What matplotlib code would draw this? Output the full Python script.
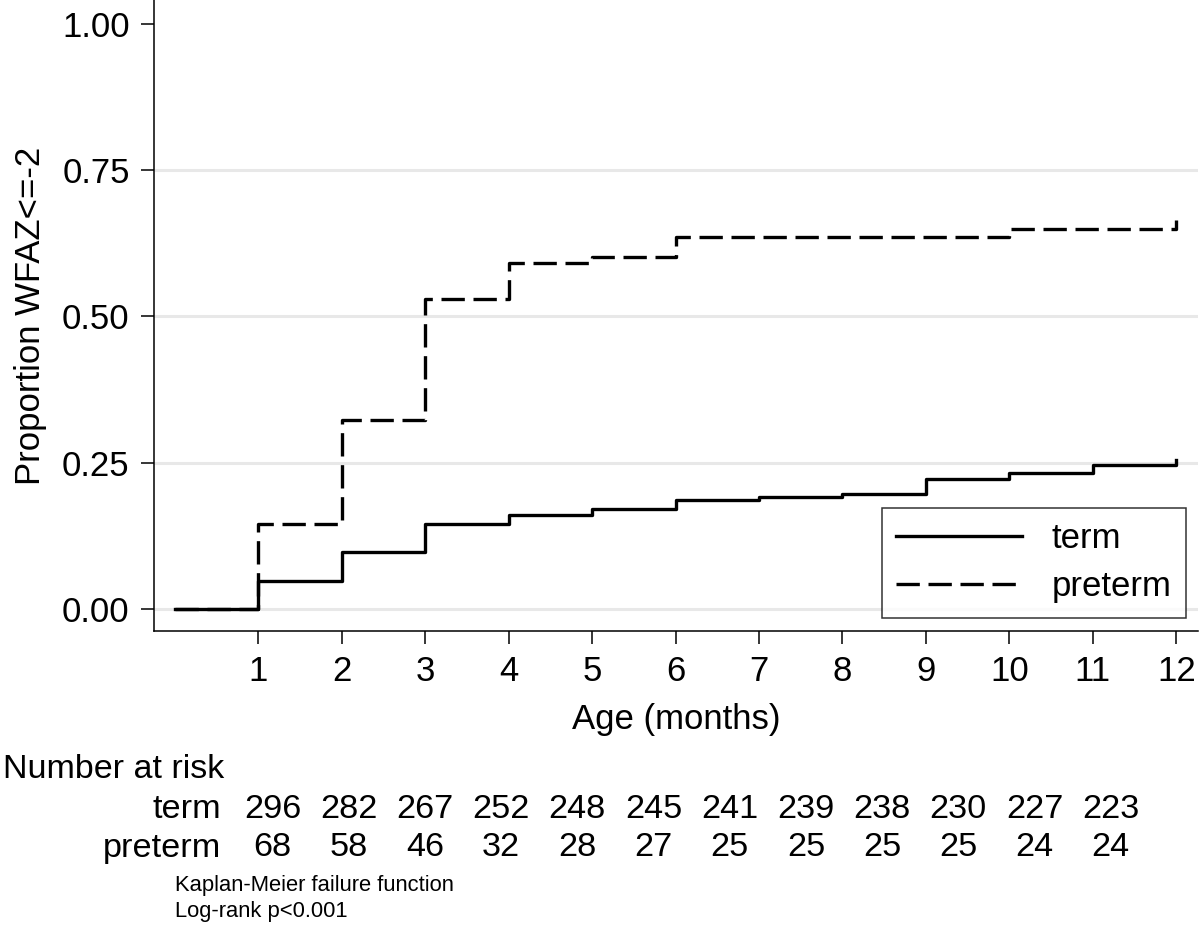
import numpy as np
import matplotlib
matplotlib.use("Agg")
import matplotlib.pyplot as plt

plt.rcParams["font.family"] = ["Liberation Sans", "DejaVu Sans"]

# Kaplan-Meier failure estimates
months = [0, 1, 2, 3, 4, 5, 6, 7, 8, 9, 10, 11, 12]
term_failure = [0.0, 0.048, 0.097, 0.146, 0.160, 0.171, 0.186, 0.192,
                0.196, 0.222, 0.233, 0.246, 0.254]
preterm_failure = [0.0, 0.145, 0.323, 0.530, 0.591, 0.602, 0.635, 0.635,
                   0.635, 0.635, 0.649, 0.649, 0.664]

# Number at risk table
groups = ["term", "preterm"]
term_at_risk = [296, 282, 267, 252, 248, 245, 241, 239, 238, 230, 227, 223]
preterm_at_risk = [68, 58, 46, 32, 28, 27, 25, 25, 25, 25, 24, 24]

y_ticks = [0.0, 0.25, 0.5, 0.75, 1.0]
y_tick_labels = ["0.00", "0.25", "0.50", "0.75", "1.00"]
x_ticks = list(range(1, 13))

W, H = 1200, 927
fig = plt.figure(figsize=(W / 100, H / 100), dpi=100)
ax = fig.add_axes([154 / W, 1 - 631 / H, (1198 - 154) / W, 631 / H])

# light grid lines (none at 1.00)
for yv in y_ticks[:-1]:
    ax.axhline(yv, color="#e8e8e8", lw=2.2, zorder=0)

ax.step(months, term_failure, where="post", color="black", lw=2.4,
        label="term")
ax.step(months, preterm_failure, where="post", color="black", lw=2.4,
        dashes=(7.0, 2.6), dash_capstyle="butt", label="preterm")

ax.set_xlim(-0.25, 12.26)
ax.set_ylim(-0.0376, 1.0407)
ax.set_xticks(x_ticks)
ax.set_yticks(y_ticks)
ax.set_yticklabels(y_tick_labels)
ax.tick_params(axis="both", direction="out", length=9.5, width=1.1,
               labelsize=25, color="black")
ax.tick_params(axis="y", pad=8)
ax.tick_params(axis="x", pad=8)
for side in ["top", "right"]:
    ax.spines[side].set_visible(False)
for side in ["left", "bottom"]:
    ax.spines[side].set_linewidth(1.1)

ax.set_xlabel("Age (months)", fontsize=25, va="center")
ax.xaxis.set_label_coords((676 - 154) / 1044, (631 - 720) / 631)
ax.set_ylabel("Proportion WFAZ<=-2", fontsize=25, va="center")
ax.yaxis.set_label_coords((31 - 154) / 1044, 0.5)

leg = ax.legend(loc="lower right", bbox_to_anchor=(1 - 12 / 1044, 13 / 631),
                fontsize=25, frameon=True, fancybox=False, handlelength=3.63,
                handletextpad=0.84, borderpad=0.42, labelspacing=0.44,
                borderaxespad=0)
leg.get_frame().set_edgecolor("black")
leg.get_frame().set_linewidth(1.1)

# number at risk table below the axes
col_x = (272.5 + 76.2 * np.arange(len(term_at_risk))) / W
fig.text(3 / W, 1 - 770 / H, "Number at risk", fontsize=24.5,
         ha="left", va="center")
for label, counts, ypix in zip(groups, [term_at_risk, preterm_at_risk],
                               [810, 848]):
    fig.text(221 / W, 1 - ypix / H, label, fontsize=24.7, ha="right",
             va="center")
    for xf, n in zip(col_x, counts):
        fig.text(xf, 1 - ypix / H, str(n), fontsize=24.7, ha="center",
                 va="center")

fig.text(175 / W, 1 - 885 / H, "Kaplan-Meier failure function",
         fontsize=15.8, ha="left", va="center")
fig.text(175 / W, 1 - 912 / H, "Log-rank p<0.001",
         fontsize=15.8, ha="left", va="center")

fig.savefig("out.png", dpi=100, facecolor="white")
